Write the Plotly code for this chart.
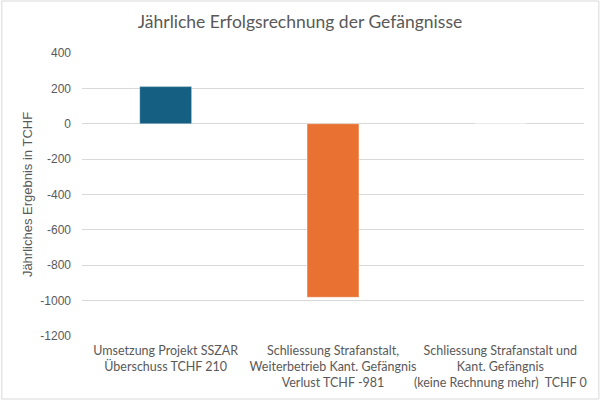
import plotly.graph_objects as go

categories = [
    "Umsetzung Projekt SSZAR<br>Überschuss TCHF 210",
    "Schliessung Strafanstalt,<br>Weiterbetrieb Kant. Gefängnis<br>Verlust TCHF -981",
    "Schliessung Strafanstalt und<br>Kant. Gefängnis<br>(keine Rechnung mehr)  TCHF 0",
]
values = [210, -981, 0]
colors = ["#156082", "#E97132", "#196B24"]
tick_vals = [400, 200, 0, -200, -400, -600, -800, -1000, -1200]

fig = go.Figure(
    go.Bar(
        x=categories,
        y=values,
        marker=dict(color=colors, line=dict(color="rgba(255,255,255,0.35)", width=1)),
        hoverinfo="x+y",
    )
)

fig.update_layout(
    width=600,
    height=400,
    paper_bgcolor="white",
    plot_bgcolor="white",
    margin=dict(l=82, r=16, t=53, b=64),
    bargap=0.69,
    showlegend=False,
    title=dict(
        text="Jährliche Erfolgsrechnung der Gefängnisse",
        x=0.5,
        xanchor="center",
        y=0.945,
        yanchor="middle",
        font=dict(family="Lato", size=17.5, color="#595959", weight=400),
    ),
    font=dict(family="Liberation Sans", size=12, color="#595959"),
    shapes=[
        dict(
            type="rect", xref="paper", yref="paper",
            x0=-81 / 507, x1=1 + 15 / 507, y0=-63 / 283, y1=1 + 52 / 283,
            line=dict(color="#D9D9D9", width=1), fillcolor="rgba(0,0,0,0)", layer="below",
        )
    ],
)

fig.update_yaxes(
    range=[-1200, 400],
    tickvals=tick_vals,
    ticktext=[str(v) for v in tick_vals],
    showgrid=True,
    gridcolor="#D9D9D9",
    gridwidth=1,
    zeroline=False,
    showline=False,
    ticks="",
    ticklen=0,
    automargin=False,
    ticklabelstandoff=10,
    tickfont=dict(family="Liberation Sans", size=12, color="#595959"),
    title=dict(text="Jährliches Ergebnis in TCHF", font=dict(family="Liberation Sans", size=13, color="#595959"), standoff=4),
)
fig.update_xaxes(
    showgrid=False,
    showline=False,
    zeroline=False,
    ticks="",
    tickangle=0,
    automargin=False,
    ticklabelstandoff=5,
    tickfont=dict(family="Lato", size=12.5, color="#595959"),
)

fig.write_html(
    "out.html",
    config={"displayModeBar": False},
    post_script="document.body.style.margin='0';document.body.style.padding='0';",
)
